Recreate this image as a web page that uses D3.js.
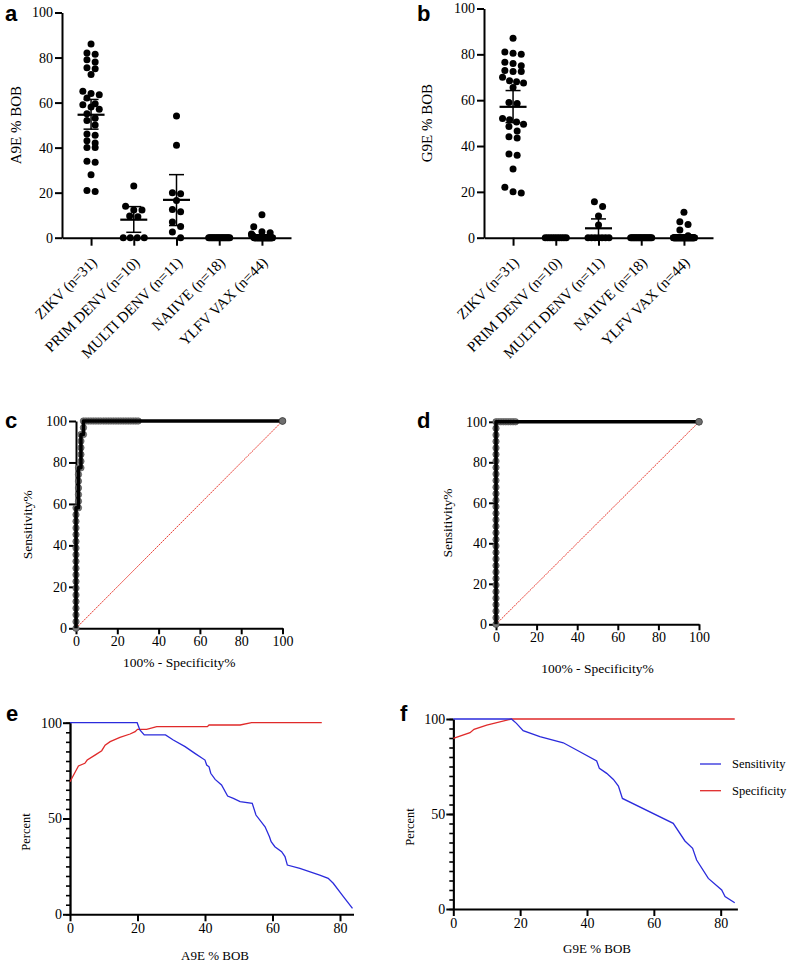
<!DOCTYPE html>
<html><head><meta charset="utf-8">
<script src="https://cdn.jsdelivr.net/npm/d3@7"></script>
<style>body{margin:0;background:#fff}</style>
</head><body>
<svg id="chart" width="789" height="962"></svg>
<script>
// ---------------- DATA ----------------
const categories = ["ZIKV (n=31)", "PRIM DENV (n=10)", "MULTI DENV (n=11)", "NAIIVE (n=18)", "YLFV VAX (n=44)"];

// Panel a : A9E % BOB
const a9eZIKV  = [86, 82, 81.5, 79, 78, 75.5, 75, 72.5, 65, 64, 63.5, 62, 59.5, 59, 58, 57, 55, 53, 52, 50, 46, 45.5, 43, 42, 40, 40, 34, 33.5, 28, 21, 20.5];
const a9ePRIM  = [23, 14, 12.3, 12.3, 9.6, 9.3, 0, 0, 0, 0];
const a9eMULTI = [54, 41, 20, 19.5, 16.5, 12.5, 11.5, 7, 5, 2.5, 0];
const a9eNAIIVE = [0,0,0,0,0,0,0,0,0,0,0,0,0,0,0,0,0,0];
const a9eYLFV  = [10.2, 4.9, 2.6, 2.2, 1.6, 1.2, 0.8, 0.6, 0.4,
  0,0,0,0,0,0,0,0,0,0,0,0,0,0,0,0,0,0,0,0,0,0,0,0,0,0,0,0,0,0,0,0,0,0,0];
const a9eMean = [54.6, 8.0, 16.8, 0, 0.6];
const a9eLow  = [48.2, 2.4, 5.4, 0, 0.1];
const a9eHigh = [61.4, 13.8, 28.0, 0, 1.1];

// Panel b : G9E % BOB
const g9eZIKV  = [87, 81, 80.5, 80, 76.5, 76, 75, 73, 72.5, 72.5, 70, 68.5, 68, 67.5, 65.5, 59, 58.5, 52, 51.5, 50.5, 49.5, 48.5, 46.5, 44, 43.5, 36.5, 36, 30, 22, 20, 19.5];
const g9ePRIM  = [0,0,0,0,0,0,0,0,0,0];
const g9eMULTI = [15.7, 13.6, 9.5, 5.5, 0, 0, 0, 0, 0, 0, 0];
const g9eNAIIVE = [0,0,0,0,0,0,0,0,0,0,0,0,0,0,0,0,0,0];
const g9eYLFV  = [11.1, 7.0, 5.8, 3.4, 0.8,
  0,0,0,0,0,0,0,0,0,0,0,0,0,0,0,0,0,0,0,0,0,0,0,0,0,0,0,0,0,0,0,0,0,0,0,0,0,0,0];
const g9eMean = [57.1, 0, 4.1, 0, 0.6];
const g9eLow  = [50.2, 0, 0, 0, 0.1];
const g9eHigh = [64.2, 0, 8.2, 0, 1.1];

// Panel c / d : ROC curves  [100% - Specificity%, Sensitivity%]
const rocC = [[0,0],[0,3.2],[0,6.5],[0,9.7],[0,12.9],[0,16.1],[0,19.4],[0,22.6],[0,25.8],[0,29.0],[0,32.3],[0,35.5],[0,38.7],[0,41.9],[0,45.2],[0,48.4],[0,51.6],[0,54.8],[0,58.1],
  [1.2,58.1],[1.2,61.3],[1.2,64.5],[1.2,67.7],[1.2,71.0],[1.2,74.2],[1.2,77.4],
  [2.4,77.4],[2.4,80.6],[2.4,83.9],[2.4,87.1],[2.4,90.3],[2.4,93.5],
  [3.6,93.5],[3.6,96.8],[3.6,100],[4.8,100],[6.0,100],[7.2,100],[8.4,100],[9.6,100],[10.8,100],[12.0,100],[13.3,100],[14.5,100],[15.7,100],[16.9,100],[18.1,100],[19.3,100],[20.5,100],[21.7,100],[22.9,100],[24.1,100],[25.3,100],[26.5,100],[27.7,100],[28.9,100],[30.1,100],[100,100]];
const rocD = [[0,0],[0,3.2],[0,6.5],[0,9.7],[0,12.9],[0,16.1],[0,19.4],[0,22.6],[0,25.8],[0,29.0],[0,32.3],[0,35.5],[0,38.7],[0,41.9],[0,45.2],[0,48.4],[0,51.6],[0,54.8],[0,58.1],[0,61.3],[0,64.5],[0,67.7],[0,71.0],[0,74.2],[0,77.4],[0,80.6],[0,83.9],[0,87.1],[0,90.3],[0,93.5],[0,96.8],[0,100],
  [1.2,100],[2.4,100],[3.6,100],[4.8,100],[6.0,100],[7.2,100],[8.4,100],[9.6,100],[100,100]];
const rocDiagonal = [[0,0],[100,100]];

// Panel e : A9E threshold curves [A9E % BOB, Percent]
const sensE = [[0,100],[19.9,100],[20.7,96.2],[22,93.6],[28.3,93.6],[30.6,91],[34.1,87.5],[37,84],[40,80.5],[40.5,77.9],[41.2,77],[41.7,73.6],[43,70.4],[44.9,67.5],[46.7,61.7],[48.4,60.5],[50.4,58.8],[54,57.9],[55.1,51.8],[57.8,45.7],[59.1,40.5],[59.6,37.9],[60.7,35.3],[62.7,32.7],[63.7,30.1],[64.4,25.7],[68.1,24],[74,20.5],[76.5,18.8],[78,16.2],[81,9.2],[83.7,3.1]];
const specE = [[0,69.2],[2.5,77.4],[4.4,78.8],[5.1,80.5],[7.4,83.1],[9.4,85.4],[10.4,88.3],[11.9,90.1],[14.8,92.3],[17.8,94.1],[19.3,95.3],[20,96.5],[22.7,96.5],[25.7,97.9],[40.7,97.9],[41.2,98.8],[50.4,98.8],[53.8,100],[74.6,100]];

// Panel f : G9E threshold curves [G9E % BOB, Percent]
const sensF = [[0,100],[17.4,100],[18.9,97.7],[20.9,93.9],[25.9,90.7],[32.9,87.5],[36.9,83.7],[42.9,77.9],[43.7,74],[45.9,71.4],[47.9,68.2],[49.4,64.7],[50.6,58.2],[65.8,45.1],[69.3,35.8],[71.6,31.9],[72.8,25.8],[76.3,16.1],[80.3,10],[81.3,6.5],[84.2,3.3]];
const specF = [[0,89.8],[5,92.8],[6.2,94.6],[10,96.8],[17.4,100],[84.2,100]];

const legendLabels = ["Sensitivity", "Specificity"];
const dotTicks = [0, 20, 40, 60, 80, 100];
const rocTicks = [0, 20, 40, 60, 80, 100];
const curveXTicks = [0, 20, 40, 60, 80];
const curveYMajor = [0, 50, 100];
const curveYMinor = [0,5,10,15,20,25,30,35,40,45,50,55,60,65,70,75,80,85,90,95,100];

// ---------------- DRAW ----------------
const FONT = "'Liberation Serif','Times New Roman',serif";
const SANS = "'Liberation Sans',Arial,sans-serif";
const BLUE = "#2b2bdc", RED = "#e02a2a";
const svg = d3.select("#chart");

function styleAxis(g, sw, fs) {
  g.attr("font-family", FONT).attr("font-size", fs || 13.5);
  g.select(".domain").attr("stroke", "#000").attr("stroke-width", sw);
  g.selectAll(".tick line").attr("stroke", "#000").attr("stroke-width", sw);
  g.selectAll(".tick text").attr("fill", "#000");
}
function text(x, y, s, opts = {}) {
  const t = svg.append("text").attr("x", x).attr("y", y).text(s)
    .attr("font-family", opts.family || FONT).attr("font-size", opts.size || 13.5)
    .attr("text-anchor", opts.anchor || "middle").attr("fill", "#000");
  if (opts.weight) t.attr("font-weight", opts.weight);
  if (opts.dy) t.attr("dy", opts.dy);
  if (opts.rotate) t.attr("transform", `rotate(${opts.rotate},${x},${y})`);
  return t;
}

function swarm(values, cx, y, r, maxHalf) {
  const sorted = values.slice().sort((a, b) => b - a);
  const rows = []; let cur = null;
  sorted.forEach(v => {
    const py = y(v);
    if (cur && Math.abs(py - cur.y0) < r * 1.8) cur.pts.push(py);
    else { cur = { y0: py, pts: [py] }; rows.push(cur); }
  });
  const out = [];
  rows.forEach(row => {
    const n = row.pts.length;
    const s = n > 1 ? Math.min(2 * r + 1.2, 2 * maxHalf / (n - 1)) : 0;
    row.pts.forEach((py, i) => out.push({ x: cx + (i - (n - 1) / 2) * s, y: py }));
  });
  return out;
}

function dotPanel(cfg) {
  const y = d3.scaleLinear().domain([0, 100]).range([cfg.y0, cfg.y100]);
  const x = d3.scalePoint().domain(categories).range([cfg.x0, cfg.x1]).padding(0.68);
  const gy = svg.append("g").attr("transform", `translate(${cfg.x0},0)`)
    .call(d3.axisLeft(y).tickValues(dotTicks).tickSize(7).tickPadding(2).tickSizeOuter(0));
  styleAxis(gy, 2, 14);
  const gx = svg.append("g").attr("transform", `translate(0,${cfg.y0})`)
    .call(d3.axisBottom(x).tickSize(8).tickSizeOuter(0).tickFormat(""));
  styleAxis(gx, 2);
  categories.forEach(c => {
    text(x(c) + 3, cfg.y0 + 22, c, { anchor: "end", rotate: -45, dy: "0.35em", size: 15 });
  });
  const r = 3.5;
  cfg.series.forEach((vals, i) => {
    const pts = swarm(vals, x(categories[i]), y, r, 10.5);
    svg.append("g").selectAll("circle").data(pts).join("circle")
      .attr("cx", d => d.x).attr("cy", d => d.y).attr("r", r).attr("fill", "#000");
  });
  categories.forEach((c, i) => {
    const cx = x(c);
    const g = svg.append("g").attr("stroke", "#000");
    g.append("line").attr("x1", cx).attr("x2", cx).attr("y1", y(cfg.low[i])).attr("y2", y(cfg.high[i])).attr("stroke-width", 1.5);
    g.append("line").attr("x1", cx - 7.5).attr("x2", cx + 7.5).attr("y1", y(cfg.low[i])).attr("y2", y(cfg.low[i])).attr("stroke-width", 1.5);
    g.append("line").attr("x1", cx - 7.5).attr("x2", cx + 7.5).attr("y1", y(cfg.high[i])).attr("y2", y(cfg.high[i])).attr("stroke-width", 1.5);
    g.append("line").attr("x1", cx - 13.5).attr("x2", cx + 13.5).attr("y1", y(cfg.mean[i])).attr("y2", y(cfg.mean[i])).attr("stroke-width", 2.2);
  });
  text(cfg.titleX, (cfg.y0 + cfg.y100) / 2, cfg.title, { rotate: -90, dy: "0.35em", size: 15 });
}

dotPanel({ x0: 62, x1: 291, y0: 237.7, y100: 12.5, title: "A9E % BOB", titleX: 16,
  series: [a9eZIKV, a9ePRIM, a9eMULTI, a9eNAIIVE, a9eYLFV], mean: a9eMean, low: a9eLow, high: a9eHigh });
dotPanel({ x0: 484, x1: 713, y0: 237.7, y100: 8.5, title: "G9E % BOB", titleX: 427,
  series: [g9eZIKV, g9ePRIM, g9eMULTI, g9eNAIIVE, g9eYLFV], mean: g9eMean, low: g9eLow, high: g9eHigh });

function rocPanel(cfg) {
  const x = d3.scaleLinear().domain([0, 100]).range([cfg.x0, cfg.x100]);
  const y = d3.scaleLinear().domain([0, 100]).range([cfg.y0, cfg.y100]);
  const gy = svg.append("g").attr("transform", `translate(${cfg.x0},0)`)
    .call(d3.axisLeft(y).tickValues(rocTicks).tickSize(7).tickPadding(2).tickSizeOuter(0));
  styleAxis(gy, 2, 14);
  const gx = svg.append("g").attr("transform", `translate(0,${cfg.y0})`)
    .call(d3.axisBottom(x).tickValues(rocTicks).tickSize(6).tickPadding(2).tickSizeOuter(0));
  styleAxis(gx, 2, 14);
  const line = d3.line().x(d => x(d[0])).y(d => y(d[1]));
  svg.append("path").attr("d", line(rocDiagonal)).attr("fill", "none")
    .attr("stroke", "#e8392f").attr("stroke-width", 1).attr("stroke-dasharray", "2,0.8");
  svg.append("g").selectAll("circle").data(cfg.data).join("circle")
    .attr("cx", d => x(d[0])).attr("cy", d => y(d[1])).attr("r", 3.2)
    .attr("fill", "#7a7a7a").attr("stroke", "#444").attr("stroke-width", 0.6);
  svg.append("path").attr("d", line(cfg.data)).attr("fill", "none")
    .attr("stroke", "#000").attr("stroke-width", 3.5).attr("stroke-linejoin", "round");
  svg.append("circle").attr("cx", x(100)).attr("cy", y(100)).attr("r", 3.4)
    .attr("fill", "#6e6e6e").attr("stroke", "#333").attr("stroke-width", 0.6);
  text(cfg.ytX, (cfg.y0 + cfg.y100) / 2, "Sensitivity%", { rotate: -90, dy: "0.35em" });
  text((cfg.x0 + cfg.x100) / 2, cfg.xtY, "100% - Specificity%", { dy: "0.35em" });
}
rocPanel({ x0: 76, x100: 282.5, y0: 628.3, y100: 421, data: rocC, ytX: 27, xtY: 662 });
rocPanel({ x0: 496, x100: 699, y0: 624.3, y100: 421.8, data: rocD, ytX: 447, xtY: 668 });

function curvePanel(cfg) {
  const x = d3.scaleLinear().domain([0, cfg.xmax]).range([cfg.x0, cfg.x1]);
  const y = d3.scaleLinear().domain([0, 100]).range([cfg.y0, cfg.y100]);
  const gm = svg.append("g").attr("transform", `translate(${cfg.x0},0)`)
    .call(d3.axisLeft(y).tickValues(curveYMinor).tickSize(4).tickFormat("").tickSizeOuter(0));
  styleAxis(gm, 1.6);
  const gy = svg.append("g").attr("transform", `translate(${cfg.x0},0)`)
    .call(d3.axisLeft(y).tickValues(curveYMajor).tickSize(7).tickPadding(1).tickSizeOuter(0));
  styleAxis(gy, 2, 14);
  const gx = svg.append("g").attr("transform", `translate(0,${cfg.y0})`)
    .call(d3.axisBottom(x).tickValues(curveXTicks).tickSize(7).tickPadding(2).tickSizeOuter(0));
  styleAxis(gx, 2, 14);
  const line = d3.line().x(d => x(d[0])).y(d => y(d[1]));
  svg.append("path").attr("d", line(cfg.spec)).attr("fill", "none").attr("stroke", RED).attr("stroke-width", 1.3);
  svg.append("path").attr("d", line(cfg.sens)).attr("fill", "none").attr("stroke", BLUE).attr("stroke-width", 1.3);
  text(cfg.ytX, cfg.ytY, "Percent", { rotate: -90, dy: "0.35em", size: 12.5 });
  text(cfg.xtX, cfg.xtY, cfg.xTitle, { dy: "0.35em", size: 13 });
}
curvePanel({ x0: 70, x1: 353.5, xmax: 84, y0: 914.3, y100: 722.7, sens: sensE, spec: specE,
  ytX: 26, ytY: 832, xtX: 215, xtY: 955, xTitle: "A9E % BOB" });
curvePanel({ x0: 453.3, x1: 737.4, xmax: 85, y0: 909, y100: 719, sens: sensF, spec: specF,
  ytX: 410, ytY: 827, xtX: 597, xtY: 948, xTitle: "G9E % BOB" });

// legend (panel f)
[BLUE, RED].forEach((col, i) => {
  const ly = 764 + i * 26.7;
  svg.append("line").attr("x1", 700).attr("x2", 721).attr("y1", ly).attr("y2", ly).attr("stroke", col).attr("stroke-width", 1.3);
  text(732, ly, legendLabels[i], { anchor: "start", dy: "0.35em", size: 12.5 });
});

// panel letters
[["a", 5, 21], ["b", 417, 21], ["c", 5, 428], ["d", 417, 428], ["e", 6, 721], ["f", 400, 721]]
  .forEach(([s, x, y]) => text(x, y, s, { anchor: "start", family: SANS, weight: "bold", size: 22 }));
</script>
</body></html>
